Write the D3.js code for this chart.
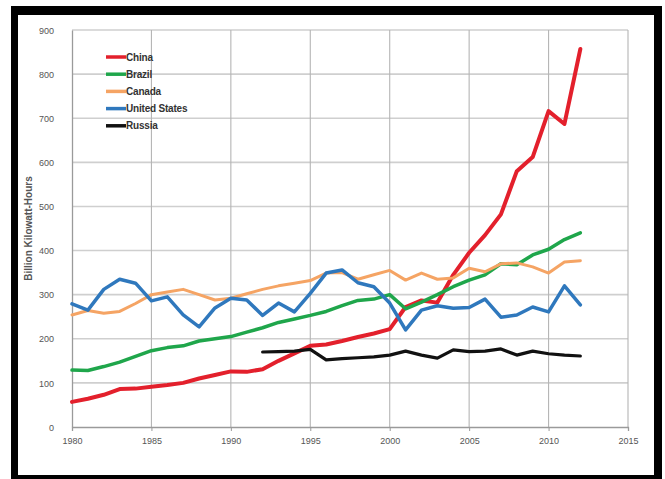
<!DOCTYPE html>
<html>
<head>
<meta charset="utf-8">
<script src="https://cdn.jsdelivr.net/npm/d3@7"></script>
<style>
  body { margin: 0; background: #fff; }
  .power-plot text { font-family: "Liberation Sans", Arial, sans-serif; }
</style>
</head>
<body>
<div class="power-plot"></div>
<script>
// values, billion kWh per year
const years = [1980, 1981, 1982, 1983, 1984, 1985, 1986, 1987, 1988, 1989,
               1990, 1991, 1992, 1993, 1994, 1995, 1996, 1997, 1998, 1999,
               2000, 2001, 2002, 2003, 2004, 2005, 2006, 2007, 2008, 2009,
               2010, 2011, 2012];

const china = [57, 64, 73, 86, 87, 91, 95, 100, 110, 118,
               126, 125, 131, 150, 167, 184, 187, 195, 204, 212,
               222, 272, 287, 282, 345, 395, 435, 482, 580, 612,
               716, 687, 857];

const brazil = [129, 128, 137, 147, 160, 173, 180, 184, 195, 200,
                205, 215, 225, 237, 245, 253, 262, 275, 287, 290,
                300, 268, 283, 300, 318, 333, 345, 370, 368, 390,
                403, 425, 440];

const canada = [254, 264, 258, 262, 280, 300, 306, 312, 300, 288,
                292, 302, 312, 320, 326, 332, 349, 350, 335, 345,
                355, 333, 349, 335, 338, 360, 352, 370, 372, 363,
                349, 374, 377];

const unitedStates = [279, 265, 312, 335, 326, 286, 295, 254, 227, 270,
                      292, 288, 253, 281, 261, 303, 349, 356, 327, 318,
                      281, 220, 265, 275, 269, 271, 290, 249, 254, 272,
                      261, 320, 277];

const russia = [null, null, null, null, null, null, null, null, null, null,
                null, null, 170, 171, 172, 176, 152, 155, 157, 159,
                163, 172, 163, 156, 175, 171, 172, 177, 163, 172,
                166, 163, 161];

const seriesNames = ['China', 'Brazil', 'Canada', 'United States', 'Russia'];
const seriesColors = ['#e3202c', '#1fa64b', '#f5a464', '#2f78bd', '#111111'];
const seriesWidths = [4, 3.5, 3, 3.5, 3.2];

const yTicks = [0, 100, 200, 300, 400, 500, 600, 700, 800, 900];
const xTicks = [1980, 1985, 1990, 1995, 2000, 2005, 2010, 2015];
const yTitle = 'Billion Kilowatt-Hours';

makeChart();

function makeChart() {

    const outerWidth = 665;
    const outerHeight = 479;

    const margin = {top: 30, left: 72, bottom: 52, right: 37};
    const width = outerWidth - margin.left - margin.right;
    const height = outerHeight - margin.top - margin.bottom;

    const root = d3.select('.power-plot')
                .append('svg')
                .attr('width', outerWidth)
                .attr('height', outerHeight);

    // black picture frame
    root.append('rect')
        .attr('x', 11).attr('y', 6)
        .attr('width', 651).attr('height', 480)
        .attr('fill', '#000');
    root.append('rect')
        .attr('x', 18).attr('y', 15)
        .attr('width', 636).attr('height', 460)
        .attr('fill', '#fff');

    const svg = root.append('g')
                .attr('transform', `translate(${margin.left}, ${margin.top})`);

    const xScale = d3.scaleLinear()
                .range([0, width])
                .domain([xTicks[0], xTicks[xTicks.length - 1]]);
    const yScale = d3.scaleLinear()
                .range([height, 0])
                .domain([yTicks[0], yTicks[yTicks.length - 1]]);

    // grid
    svg.append('g')
        .selectAll('line')
        .data(yTicks.slice(1))
        .enter()
        .append('line')
        .attr('x1', 0).attr('x2', width)
        .attr('y1', d => yScale(d)).attr('y2', d => yScale(d))
        .attr('stroke', '#cfcfcf')
        .attr('stroke-width', 1.6);

    svg.append('g')
        .selectAll('line')
        .data(xTicks.slice(1))
        .enter()
        .append('line')
        .attr('x1', d => xScale(d)).attr('x2', d => xScale(d))
        .attr('y1', 0).attr('y2', height)
        .attr('stroke', '#b5b5b5')
        .attr('stroke-width', 1.1);

    const xAxis = d3.axisBottom(xScale)
                .tickValues(xTicks)
                .tickFormat(d3.format('d'))
                .tickSize(4)
                .tickPadding(7);
    const yAxis = d3.axisLeft(yScale)
                .tickValues(yTicks)
                .tickSize(0)
                .tickPadding(18);

    svg.append('g')
        .attr('transform', `translate(0, ${height})`)
        .call(xAxis)
        .call(g => g.select('.domain').attr('stroke', '#9a9a9a').attr('stroke-width', 1.3))
        .call(g => g.selectAll('.tick line').attr('stroke', '#9a9a9a'))
        .call(g => g.selectAll('.tick text')
                    .attr('font-size', 9)
                    .attr('fill', '#555'));

    svg.append('g')
        .call(yAxis)
        .call(g => g.select('.domain').attr('stroke', '#9a9a9a').attr('stroke-width', 1.3))
        .call(g => g.selectAll('.tick text')
                    .attr('dy', '0.35em')
                    .attr('font-size', 9)
                    .attr('fill', '#555'));

    svg.append('text')
        .attr('transform', `translate(${-40}, ${height / 2}) rotate(-90)`)
        .attr('text-anchor', 'middle')
        .attr('font-size', 10)
        .attr('font-weight', 'bold')
        .attr('fill', '#555')
        .text(yTitle);

    const allSeries = [china, brazil, canada, unitedStates, russia];

    const line = d3.line()
                .defined(d => d.value != null)
                .x(d => xScale(d.year))
                .y(d => yScale(d.value));

    allSeries.forEach((values, i) => {
        const points = years.map((year, j) => ({year: year, value: values[j]}));
        svg.append('path')
            .datum(points)
            .attr('fill', 'none')
            .attr('stroke', seriesColors[i])
            .attr('stroke-width', seriesWidths[i])
            .attr('stroke-linejoin', 'round')
            .attr('stroke-linecap', 'round')
            .attr('d', line);
    });

    // legend, top left inside the plot
    const legend = svg.append('g')
                .attr('transform', `translate(${34}, ${27})`);

    const rows = legend.selectAll('g')
                .data(seriesNames)
                .enter()
                .append('g')
                .attr('transform', (d, i) => `translate(0, ${i * 17.2})`);

    rows.append('line')
        .attr('x1', 0).attr('x2', 20)
        .attr('y1', 0).attr('y2', 0)
        .attr('stroke', (d, i) => seriesColors[i])
        .attr('stroke-width', 3.5);

    rows.append('text')
        .attr('x', 20)
        .attr('dy', '0.35em')
        .attr('font-size', 10)
        .attr('font-weight', 'bold')
        .attr('fill', '#333')
        .attr('letter-spacing', -0.2)
        .text(d => d);
}
</script>
</body>
</html>
